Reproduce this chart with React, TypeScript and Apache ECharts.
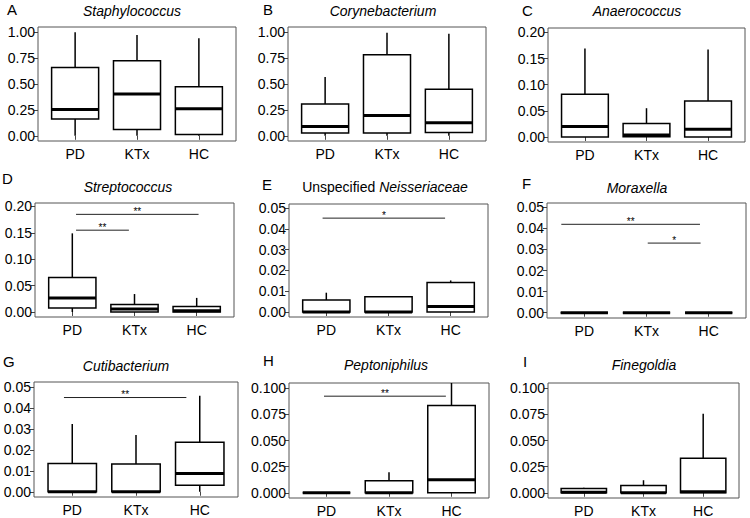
import React, { useEffect, useRef } from 'react';
import * as echarts from 'echarts';

// ---------- data ----------
const groups = ['PD', 'KTx', 'HC'];
const panelLetters = ['A', 'B', 'C', 'D', 'E', 'F', 'G', 'H', 'I'];
const panelTitles = [
  'Staphylococcus', 'Corynebacterium', 'Anaerococcus',
  'Streptococcus', 'Unspecified Neisseriaceae', 'Moraxella',
  'Cutibacterium', 'Peptoniphilus', 'Finegoldia',
];

// [min, q1, median, q3, max] for PD, KTx, HC
const staphylococcus = [[0, 0.163, 0.253, 0.66, 1.0], [0, 0.061, 0.404, 0.724, 0.974], [0, 0.013, 0.26, 0.474, 0.942]];
const corynebacterium = [[0, 0.026, 0.09, 0.308, 0.567], [0, 0.026, 0.196, 0.782, 0.994], [0, 0.032, 0.125, 0.449, 0.984]];
const anaerococcus = [[0, 0, 0.0198, 0.0818, 0.169], [0, 0.0005, 0.004, 0.0256, 0.055], [0, 0, 0.0147, 0.069, 0.167]];
const streptococcus = [[0, 0.0076, 0.0267, 0.0654, 0.149], [0, 0, 0.0057, 0.014, 0.034], [0, 0, 0.0025, 0.0102, 0.0267]];
const neisseriaceae = [[0, 0, 0, 0.0058, 0.0093], [0, 0, 0, 0.0073, 0.0073], [0, 0, 0.0027, 0.0142, 0.0152]];
const moraxella = [[0, 0, 0, 0, 0], [0, 0, 0, 0, 0], [0, 0, 0, 0, 0]];
const cutibacterium = [[0, 0, 0, 0.0135, 0.0323], [0, 0, 0, 0.0132, 0.027], [0, 0.0031, 0.0087, 0.0236, 0.0457]];
const peptoniphilus = [[0, 0, 0, 0, 0], [0, 0, 0, 0.0115, 0.0197], [0, 0, 0.0124, 0.0835, 0.105]];
const finegoldia = [[0, 0, 0.0005, 0.0041, 0.0048], [0, 0, 0, 0.007, 0.012], [0, 0, 0.001, 0.033, 0.0756]];
const panelStats = [staphylococcus, corynebacterium, anaerococcus, streptococcus, neisseriaceae, moraxella, cutibacterium, peptoniphilus, finegoldia];

// y tick labels
const ticksUnit = [0, 0.25, 0.5, 0.75, 1];
const ticks020 = [0, 0.05, 0.1, 0.15, 0.2];
const ticks005 = [0, 0.01, 0.02, 0.03, 0.04, 0.05];
const ticks010 = [0, 0.025, 0.05, 0.075, 0.1];
const panelTicks = [ticksUnit, ticksUnit, ticks020, ticks020, ticks005, ticks005, ticks005, ticks010, ticks010];
const panelDecimals = [2, 2, 2, 2, 2, 2, 2, 3, 3];
const panelYRange = [
  [-0.05, 1.05], [-0.05, 1.05], [-0.0096, 0.2083],
  [-0.0095, 0.2065], [-0.0024, 0.052], [-0.0025, 0.052],
  [-0.0025, 0.0523], [-0.005, 0.105], [-0.005, 0.105],
];

// significance brackets: [x from, x to, y] in group units (PD=1, KTx=2, HC=3) and label
const bracketsD = [[1.06, 1.91, 0.155], [1.06, 3.03, 0.185]];
const bracketsDLabels = ['**', '**'];
const bracketsE = [[0.94, 2.91, 0.0452]];
const bracketsELabels = ['*'];
const bracketsF = [[0.63, 2.86, 0.0419], [2.02, 2.87, 0.033]];
const bracketsFLabels = ['**', '*'];
const bracketsG = [[0.87, 2.79, 0.0449]];
const bracketsGLabels = ['**'];
const bracketsH = [[0.96, 2.91, 0.0924]];
const bracketsHLabels = ['**'];
const panelBrackets = [[], [], [], bracketsD, bracketsE, bracketsF, bracketsG, bracketsH, []];
const panelBracketLabels = [[], [], [], bracketsDLabels, bracketsELabels, bracketsFLabels, bracketsGLabels, bracketsHLabels, []];

// ---------- layout ----------
const gridLayout = [
  [38, 27, 198, 114], [288, 27, 198, 114], [548, 28, 197, 114],
  [35, 203, 199, 114], [289, 204, 199, 113], [547, 203, 199, 115],
  [34, 382, 204, 115], [289, 383, 200, 115], [548, 383, 191, 115],
];
const titlePos = [
  [132, 4], [383, 4], [637, 4],
  [128, 180], [385, 180], [637, 181],
  [126, 359], [386, 358], [644, 358],
];
const letterPos = [
  [7, 2], [263, 2], [522, 3],
  [2, 171], [262, 177], [522, 176],
  [3, 354], [263, 353], [523, 354],
];

const FONT = "'Liberation Sans', Arial, Helvetica, sans-serif";
const BOX_WIDTH = 0.76;

export default function App() {
  const ref = useRef<HTMLDivElement>(null);
  useEffect(() => {
    document.body.style.margin = '0';
    const chart = echarts.init(ref.current!, null, { renderer: 'svg' });

    const grid: any[] = [];
    const xAxis: any[] = [];
    const yAxis: any[] = [];
    const series: any[] = [];
    const title: any[] = [];

    panelStats.forEach((stats, i) => {
      const [l, t, w, h] = gridLayout[i];
      grid.push({
        left: l, top: t, width: w, height: h, show: true,
        borderColor: '#555', borderWidth: 1, backgroundColor: '#fff',
      });
      xAxis.push({
        type: 'value', gridIndex: i, min: 0.4, max: 3.6,
        axisLine: { show: false }, splitLine: { show: false },
        axisTick: { show: true, customValues: [1, 2, 3], length: 4, lineStyle: { color: '#444' } },
        axisLabel: {
          customValues: [1, 2, 3], formatter: (v: number) => groups[Math.round(v) - 1],
          color: '#000', fontSize: 14, fontFamily: FONT, margin: 6,
        },
      });
      const dec = panelDecimals[i];
      yAxis.push({
        type: 'value', gridIndex: i, min: panelYRange[i][0], max: panelYRange[i][1],
        axisLine: { show: false }, splitLine: { show: false },
        axisTick: { show: true, customValues: panelTicks[i], length: 4, lineStyle: { color: '#444' } },
        axisLabel: {
          customValues: panelTicks[i], formatter: (v: number) => v.toFixed(dec),
          color: '#000', fontSize: 14, fontFamily: FONT, margin: 3,
        },
      });
      series.push({
        type: 'custom', xAxisIndex: i, yAxisIndex: i, clip: false,
        data: stats.map((s, k) => [k + 1, ...s]),
        encode: { x: 0, y: [1, 2, 3, 4, 5] },
        renderItem: (params: any, api: any) => {
          const x = api.value(0);
          const mn = api.coord([x, api.value(1)]);
          const q1 = api.coord([x, api.value(2)]);
          const md = api.coord([x, api.value(3)]);
          const q3 = api.coord([x, api.value(4)]);
          const mx = api.coord([x, api.value(5)]);
          const half = api.size([BOX_WIDTH, 0])[0] / 2;
          const cx = mn[0];
          const ls = { stroke: '#000', lineWidth: 1.5, fill: 'none' };
          return {
            type: 'group',
            children: [
              { type: 'line', shape: { x1: cx, y1: mx[1], x2: cx, y2: q3[1] }, style: ls },
              { type: 'line', shape: { x1: cx, y1: q1[1], x2: cx, y2: mn[1] }, style: ls },
              { type: 'rect', shape: { x: cx - half, y: q3[1], width: 2 * half, height: q1[1] - q3[1] }, style: { fill: '#fff', stroke: '#000', lineWidth: 1.5 } },
              { type: 'line', shape: { x1: cx - half, y1: md[1], x2: cx + half, y2: md[1] }, style: { stroke: '#000', lineWidth: 3 } },
            ],
          };
        },
      });
      const br = panelBrackets[i];
      if (br.length) {
        const labels = panelBracketLabels[i];
        series.push({
          type: 'custom', xAxisIndex: i, yAxisIndex: i, clip: false,
          data: br,
          encode: { x: [0, 1], y: 2 },
          renderItem: (params: any, api: any) => {
            const p0 = api.coord([api.value(0), api.value(2)]);
            const p1 = api.coord([api.value(1), api.value(2)]);
            return {
              type: 'group',
              children: [
                { type: 'line', shape: { x1: p0[0], y1: p0[1], x2: p1[0], y2: p1[1] }, style: { stroke: '#222', lineWidth: 1 } },
                {
                  type: 'text', x: (p0[0] + p1[0]) / 2, y: p0[1] + 2,
                  style: { text: labels[params.dataIndex], fontSize: 10, fontFamily: FONT, fill: '#000', align: 'center', verticalAlign: 'bottom' },
                },
              ],
            };
          },
        });
      }
      const tName = panelTitles[i];
      const isUnspec = tName.startsWith('Unspecified ');
      title.push({
        text: isUnspec ? `{n|Unspecified }{i|${tName.replace('Unspecified ', '')}}` : tName,
        left: titlePos[i][0], top: titlePos[i][1], textAlign: 'center', padding: 0,
        textStyle: {
          fontSize: 14, fontFamily: FONT, fontWeight: 'normal', color: '#000',
          fontStyle: isUnspec ? 'normal' : 'italic',
          rich: isUnspec ? {
            n: { fontSize: 14, fontFamily: FONT, fontStyle: 'normal', color: '#000' },
            i: { fontSize: 14, fontFamily: FONT, fontStyle: 'italic', color: '#000' },
          } : undefined,
        },
      });
      title.push({
        text: panelLetters[i], left: letterPos[i][0], top: letterPos[i][1], padding: 0,
        textStyle: { fontSize: 15, fontFamily: FONT, fontWeight: 'normal', color: '#000' },
      });
    });

    chart.setOption({
      animation: false,
      backgroundColor: '#fff',
      title, grid, xAxis, yAxis, series,
    });
    return () => chart.dispose();
  }, []);
  return <div ref={ref} style={{ position: 'absolute', left: 0, top: 0, width: 750, height: 518 }} />;
}
